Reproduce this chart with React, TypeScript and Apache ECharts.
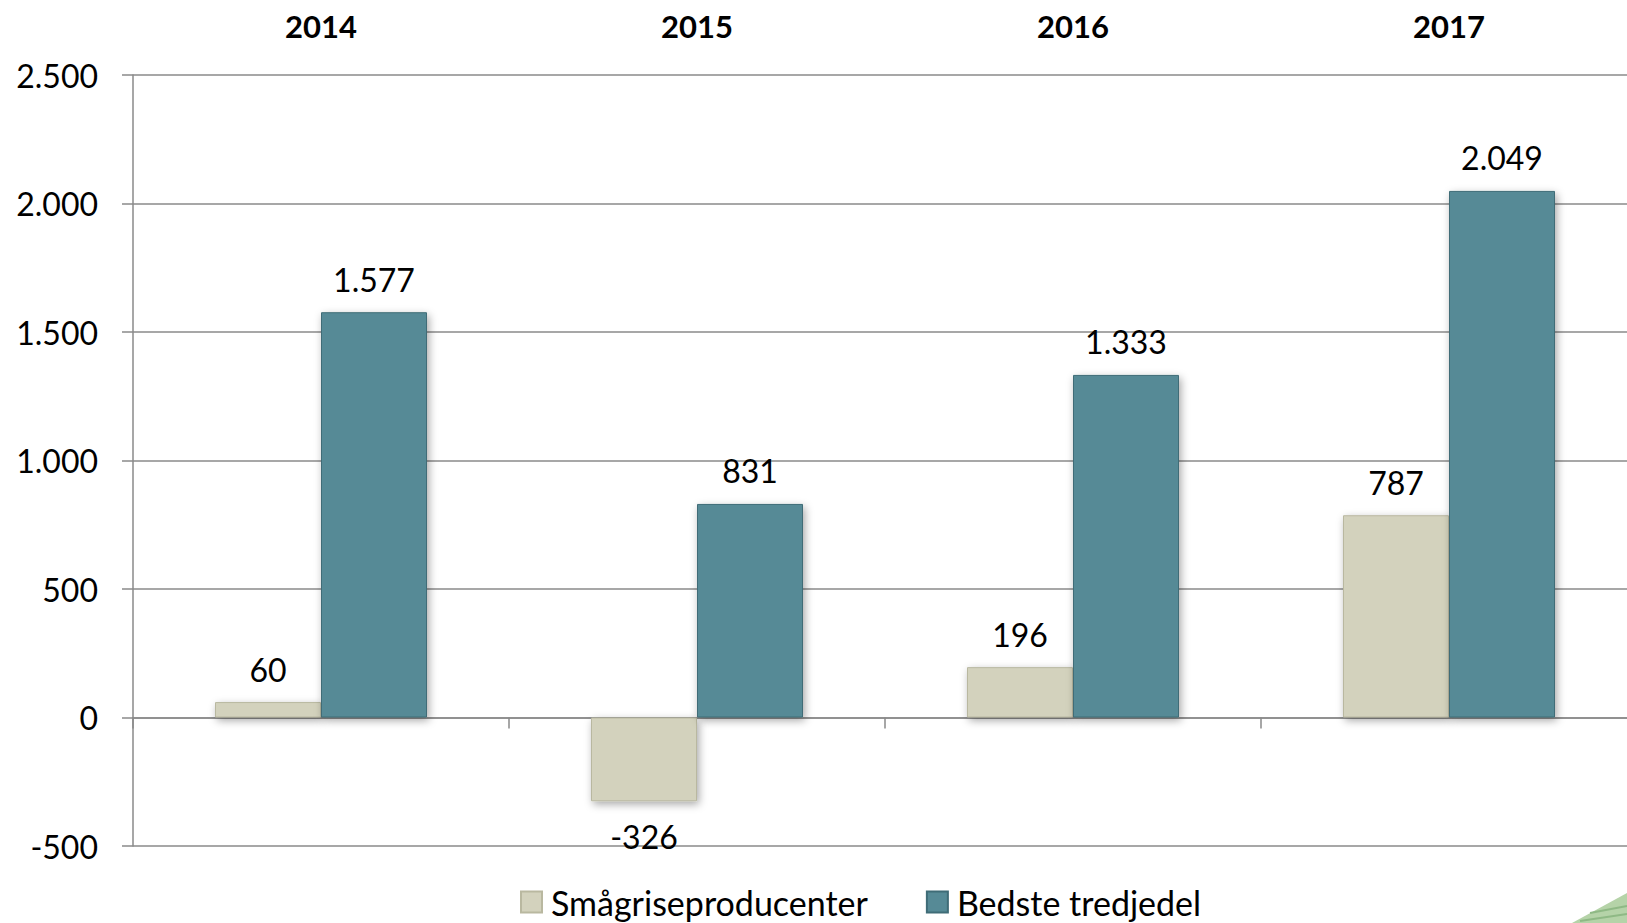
import React, { useEffect, useRef } from "react";
import * as echarts from "echarts";

const years = ["2014", "2015", "2016", "2017"];
const smaagrise = [60, -326, 196, 787];
const bedste = [1577, 831, 1333, 2049];
const seriesNames = ["Smågriseproducenter", "Bedste tredjedel"];
const yMin = -500;
const yMax = 2500;
const yStep = 500;

const fmt = (v: number) => {
  const s = Math.abs(v).toString().replace(/\B(?=(\d{3})+(?!\d))/g, ".");
  return (v < 0 ? "-" : "") + s;
};

const FONT = "Lato, 'Open Sans', sans-serif";

export default function App() {
  const ref = useRef<HTMLDivElement>(null);
  useEffect(() => {
    if (!ref.current) return;
    const chart = echarts.init(ref.current, null, { renderer: "svg" });
    const labelBase = {
      show: true,
      position: "outside",
      fontSize: 32,
      fontFamily: FONT,
      color: "#000",
      formatter: (p: any) => fmt(p.value),
    };
    const mkData = (arr: number[]) =>
      arr.map((v) => ({ value: v, label: { distance: v < 0 ? 19 : 17 } }));
    chart.setOption({
      animation: false,
      textStyle: { fontFamily: FONT },
      grid: { left: 133, right: 0, top: 75, bottom: 77, containLabel: false },
      legend: {
        data: seriesNames,
        left: 515,
        top: 880,
        itemWidth: 21,
        itemHeight: 21,
        itemGap: 58,
        icon: "rect",
        textStyle: { fontSize: 34, fontFamily: FONT, color: "#000", padding: [0, 0, 0, 4] },
      },
      xAxis: [
        {
          type: "category",
          data: years,
          position: "bottom",
          axisLine: { onZero: true, lineStyle: { color: "#8a8a8a", width: 1.5 } },
          axisTick: { show: true, length: 11, lineStyle: { color: "#8a8a8a", width: 1.5 } },
          axisLabel: { show: false },
        },
        {
          type: "category",
          data: years,
          position: "top",
          axisLine: { show: false },
          axisTick: { show: false },
          axisLabel: {
            show: true,
            margin: 34,
            fontSize: 31,
            fontWeight: "bold",
            fontFamily: FONT,
            color: "#000",
          },
        },
      ],
      yAxis: {
        type: "value",
        min: yMin,
        max: yMax,
        interval: yStep,
        axisLine: { show: true, lineStyle: { color: "#8a8a8a", width: 1.5 } },
        axisTick: { show: true, length: 11, lineStyle: { color: "#8a8a8a", width: 1.5 } },
        splitLine: { show: true, lineStyle: { color: "#8a8a8a", width: 1.5 } },
        axisLabel: {
          margin: 35,
          fontSize: 32,
          fontFamily: FONT,
          color: "#000",
          formatter: (v: number) => fmt(v),
        },
      },
      series: [
        {
          name: seriesNames[0],
          type: "bar",
          xAxisIndex: 0,
          barWidth: 106,
          barGap: "0%",
          data: mkData(smaagrise),
          itemStyle: {
            color: "#D3D2BD",
            borderColor: "#B9B8A0",
            borderWidth: 1,
            shadowColor: "rgba(0,0,0,0.35)",
            shadowBlur: 8,
            shadowOffsetX: 2,
            shadowOffsetY: 3,
          },
          label: labelBase,
        },
        {
          name: seriesNames[1],
          type: "bar",
          xAxisIndex: 0,
          barWidth: 106,
          barGap: "0%",
          data: mkData(bedste),
          itemStyle: {
            color: "#568A96",
            borderColor: "#3F6C77",
            borderWidth: 1,
            shadowColor: "rgba(0,0,0,0.35)",
            shadowBlur: 8,
            shadowOffsetX: 2,
            shadowOffsetY: 3,
          },
          label: labelBase,
        },
      ],
      graphic: [
        {
          type: "polygon",
          shape: { points: [[1572, 923], [1627, 893], [1627, 923]] },
          style: { fill: "#b5d3a8" },
          silent: true,
        },
        {
          type: "line",
          shape: { x1: 1590, y1: 913, x2: 1627, y2: 906 },
          style: { stroke: "#8fb985", lineWidth: 2 },
          silent: true,
        },
        {
          type: "line",
          shape: { x1: 1580, y1: 921, x2: 1627, y2: 914 },
          style: { stroke: "#8fb985", lineWidth: 2 },
          silent: true,
        },
      ],
    });
    return () => chart.dispose();
  }, []);
  return (
    <div
      style={{
        position: "fixed",
        left: 0,
        top: 0,
        width: 1627,
        height: 923,
        overflow: "hidden",
        background: "#fff",
      }}
    >
      <div ref={ref} style={{ width: 1637, height: 923 }} />
    </div>
  );
}
